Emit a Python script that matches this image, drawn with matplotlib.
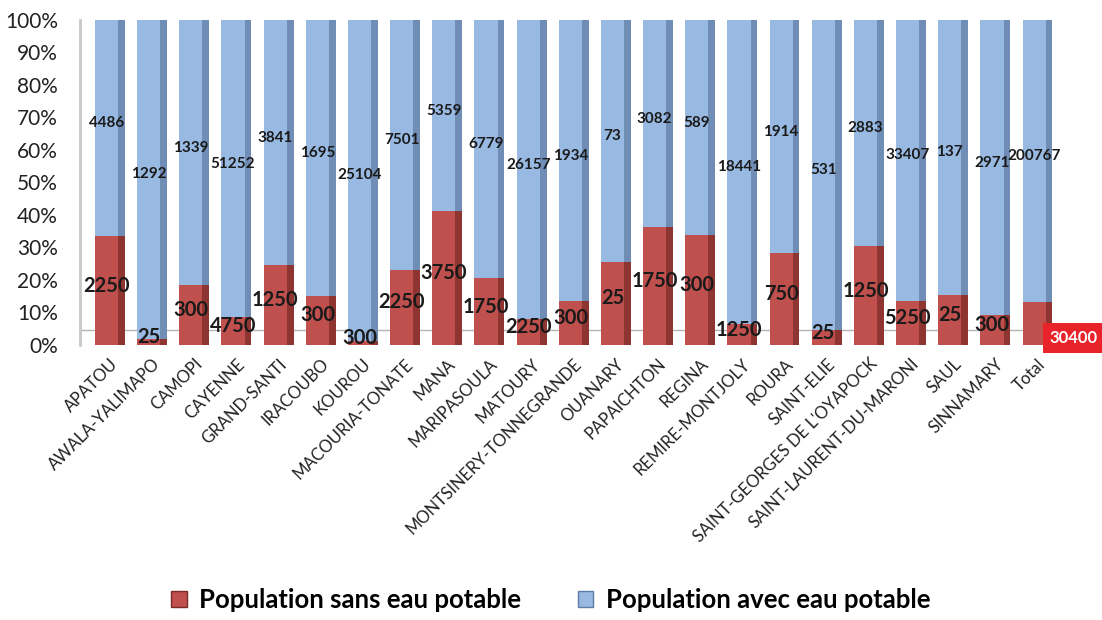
import matplotlib.pyplot as plt
import numpy as np

# communes de Guyane, population sans / avec eau potable
communes = ["APATOU", "AWALA-YALIMAPO", "CAMOPI", "CAYENNE", "GRAND-SANTI",
            "IRACOUBO", "KOUROU", "MACOURIA-TONATE", "MANA", "MARIPASOULA",
            "MATOURY", "MONTSINERY-TONNEGRANDE", "OUANARY", "PAPAICHTON",
            "REGINA", "REMIRE-MONTJOLY", "ROURA", "SAINT-ELIE",
            "SAINT-GEORGES DE L'OYAPOCK", "SAINT-LAURENT-DU-MARONI", "SAUL",
            "SINNAMARY", "Total"]
sans_eau = [2250, 25, 300, 4750, 1250, 300, 300, 2250, 3750, 1750, 2250, 300,
            25, 1750, 300, 1250, 750, 25, 1250, 5250, 25, 300, 30400]
avec_eau = [4486, 1292, 1339, 51252, 3841, 1695, 25104, 7501, 5359, 6779,
            26157, 1934, 73, 3082, 589, 18441, 1914, 531, 2883, 33407, 137,
            2971, 200767]

plt.rcParams['font.family'] = ['Lato', 'DejaVu Sans']

sans = np.array(sans_eau, dtype=float)
avec = np.array(avec_eau, dtype=float)
tot = sans + avec
p_sans = sans / tot
p_avec = avec / tot
x = np.arange(len(communes))

red, red_side = "#C0504D", "#8E3431"
blue, blue_side = "#98B9E2", "#6F8DB5"
w = 0.55      # front face
side = 0.16   # depth side
xf = x - 0.355 + w / 2
xs = x - 0.355 + w + side / 2

fig = plt.figure(figsize=(11.02, 6.2), dpi=100)
ax = fig.add_axes([0.0726, 0.444, 0.888, 0.524])

ax.axhline(0.045, color="#B5B5B5", lw=1, zorder=1)

# face of each column
ax.bar(xf, p_sans, w, color=red, zorder=2)
ax.bar(xf, p_avec, w, bottom=p_sans, color=blue, zorder=2)
# darker depth side for the 3D look
ax.bar(xs, p_sans, side, color=red_side, zorder=2)
ax.bar(xs, p_avec, side, bottom=p_sans, color=blue_side, zorder=2)

for i in range(len(communes)):
    ax.text(xf[i], p_sans[i] + p_avec[i] / 2 + 0.015, f"{int(avec[i])}",
            ha="center", va="center", fontsize=11, fontweight="bold",
            color="#1A1A1A", zorder=3)
    if communes[i] == "Total":
        ax.text(x[i] + 0.86, 0.02, f"{int(sans[i])}", ha="center", va="center",
                fontsize=12, fontweight="bold", color="white", zorder=3,
                clip_on=False,
                bbox=dict(boxstyle="square,pad=0.42", fc="#E8232A", ec="none"))
    else:
        ax.text(xf[i], p_sans[i] / 2 + 0.015, f"{int(sans[i])}",
                ha="center", va="center", fontsize=14.5, fontweight="bold",
                color="#1A1A1A", zorder=3)

ax.set_xlim(-0.71, len(communes) - 1 + 0.5)
ax.set_ylim(0, 1)
ticks = np.arange(0, 1.01, 0.1)
ax.set_yticks(ticks)
ax.set_yticklabels([f"{int(round(v * 100))}%" for v in ticks],
                   fontsize=15, color="#222222")
ax.set_xticks(x)
ax.set_xticklabels(communes, rotation=45, ha="right", rotation_mode="anchor",
                   fontsize=12, color="#222222")
ax.tick_params(axis="y", length=0, pad=16)
ax.tick_params(axis="x", length=0, pad=8)
for s in ["top", "right", "bottom"]:
    ax.spines[s].set_visible(False)
ax.spines["left"].set_color("#C8C8C8")
ax.spines["left"].set_linewidth(2)

h1 = plt.Rectangle((0, 0), 1, 1, fc=red, ec="#7A2A28")
h2 = plt.Rectangle((0, 0), 1, 1, fc=blue, ec="#5E7DA6")
fig.legend([h1, h2], ["Population sans eau potable", "Population avec eau potable"],
           loc="lower center", bbox_to_anchor=(0.5, -0.025), ncol=2, frameon=False,
           prop={"weight": "bold", "size": 18.5}, handlelength=0.6, handleheight=0.6,
           columnspacing=2.2, handletextpad=0.5)

fig.savefig("out.png", dpi=100)
